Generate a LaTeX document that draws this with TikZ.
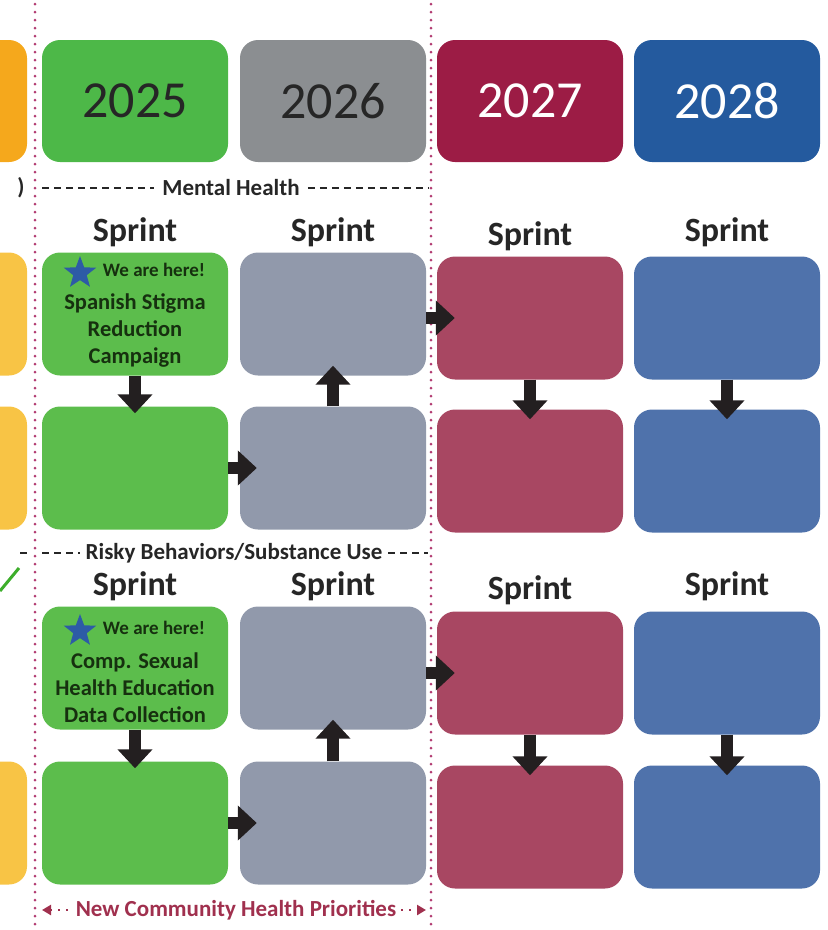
\documentclass[tikz,border=0pt]{standalone}
\usepackage{fontspec}
\setmainfont{Carlito}
\usetikzlibrary{arrows.meta,shapes.geometric}
\definecolor{yrorange}{HTML}{F5A81C}
\definecolor{rworange}{HTML}{F8C445}
\definecolor{yrgreen}{HTML}{4DB848}
\definecolor{rwgreen}{HTML}{5CBD4C}
\definecolor{yrgray}{HTML}{8B8E91}
\definecolor{rwgray}{HTML}{9199AB}
\definecolor{yrred}{HTML}{9C1C45}
\definecolor{rwred}{HTML}{A84762}
\definecolor{yrblue}{HTML}{245A9E}
\definecolor{rwblue}{HTML}{4F72AB}
\definecolor{arrowblk}{HTML}{231F20}
\definecolor{textdark}{HTML}{262626}
\definecolor{textgreen}{HTML}{16300F}
\definecolor{stardot}{HTML}{B23C72}
\definecolor{priored}{HTML}{A0304E}
\definecolor{starblue}{HTML}{2D5BA6}
\definecolor{linkgreen}{HTML}{3DAE2B}
\newcommand{\yrfont}{\fontsize{52}{58}\selectfont}
\newcommand{\sprintfont}{\bfseries\fontsize{34}{38}\selectfont}
\newcommand{\topicfont}{\bfseries\fontsize{23}{26}\selectfont}
\newcommand{\taskfont}{\bfseries\fontsize{22.5}{27}\selectfont}
\newcommand{\herefont}{\bfseries\fontsize{19}{21}\selectfont}
\tikzset{
  box/.style={rounded corners=18pt, minimum width=186pt, minimum height=123pt, inner sep=0pt},
  yearbox/.style={box, minimum height=122pt, font=\yrfont},
  blk/.style={draw=arrowblk, line width=12.5pt, -{Triangle[width=34pt,length=19pt]}},
  sprint/.style={font=\sprintfont, text=textdark, inner sep=0pt},
  topic/.style={font=\topicfont, text=textdark, inner ysep=0pt, inner xsep=8pt},
  topicline/.style={draw=textdark, line width=2.4pt, dash pattern=on 7pt off 5pt},
  dotline/.style={draw=stardot, line width=3pt, line cap=round, dash pattern=on 0pt off 8pt},
  task/.style={font=\taskfont, text=textgreen, align=center, inner sep=0pt},
  here/.style={font=\herefont, text=textgreen, inner sep=0pt},
  bluestar/.style={star, star points=5, star point ratio=2.4, fill=starblue, minimum size=34pt, inner sep=0pt}
}
\begin{document}
\begin{tikzpicture}[x=1pt,y=-1pt]
\useasboundingbox (0,0) rectangle (828,930);
\clip (0,0) rectangle (828,930);

%cut-off column on the left
\node[yearbox, fill=yrorange] (y24) at (-66,101) {};
\node[box, fill=rworange] (l1a) at (-66,314) {};
\node[box, fill=rworange] (l1b) at (-66,468) {};
\node[box, fill=rworange] (l2b) at (-66,823) {};
\node[font=\topicfont, text=textdark] at (21,188) {)};
\draw[topicline] (20,553) -- (27,553);
\draw[linkgreen, line width=3pt] (0,591) -- (19,568);

%year boxes
\node[yearbox, fill=yrgreen, text=textdark] (y25) at (135,101) {2025};
\node[yearbox, fill=yrgray, text=textdark] (y26) at (333,101) {2026};
\node[yearbox, fill=yrred, text=white] (y27) at (530,101) {2027};
\node[yearbox, fill=yrblue, text=white] (y28) at (727,101) {2028};

%dotted column marks
\draw[dotline] (35,4) -- (35,930);
\draw[dotline] (431,4) -- (431,930);

%mental health
\coordinate (mhl) at (42,188);
\coordinate (mhr) at (428,188);
\node[topic, fill=white] (mh) at (231,188) {Mental Health};
\draw[topicline] (mhl) -- (mh);
\draw[topicline] (mh) -- (mhr);

\node[sprint] (s1a) at (135,232) {Sprint};
\node[sprint] (s2a) at (333,232) {Sprint};
\node[sprint] (s3a) at (530,236) {Sprint};
\node[sprint] (s4a) at (727,232) {Sprint};

\node[box, fill=rwgreen] (m1a) at (135,314) {};
\node[box, fill=rwgreen] (m1b) at (135,468) {};
\node[box, fill=rwgray] (m2a) at (333,314) {};
\node[box, fill=rwgray] (m2b) at (333,468) {};
\node[box, fill=rwred] (m3a) at (530,318) {};
\node[box, fill=rwred] (m3b) at (530,471) {};
\node[box, fill=rwblue] (m4a) at (727,318) {};
\node[box, fill=rwblue] (m4b) at (727,471) {};

\node[bluestar] (st1) at (80,273) {};
\node[here] (h1) at (154,270) {We are here!};
\node[task] (t1) at (135,330) {Spanish Stigma\\Reduction\\Campaign};

\draw[blk, shorten >=-7pt] (m1a) -- (m1b);
\draw[blk, shorten >=-17pt] (m1b) -- (m2b);
\draw[blk, shorten >=-10pt] (m2b) -- (m2a);
\draw[blk, shorten >=-18pt] (m3a.west -| m2a.east) -- (m3a.west);
\draw[blk, shorten >=-10pt] (m3a) -- (m3b);
\draw[blk, shorten >=-10pt] (m4a) -- (m4b);

%risky behaviors
\coordinate (rbl) at (42,553);
\coordinate (rbr) at (428,553);
\node[topic, fill=white, inner xsep=6pt] (rb) at (234,553) {Risky Behaviors/Substance Use};
\draw[topicline] (rbl) -- (rb);
\draw[topicline] (rb) -- (rbr);

\node[sprint] (s1b) at (135,586) {Sprint};
\node[sprint] (s2b) at (333,586) {Sprint};
\node[sprint] (s3b) at (530,590) {Sprint};
\node[sprint] (s4b) at (727,586) {Sprint};

\node[box, fill=rwgreen] (r1a) at (135,668) {};
\node[box, fill=rwgreen] (r1b) at (135,823) {};
\node[box, fill=rwgray] (r2a) at (333,668) {};
\node[box, fill=rwgray] (r2b) at (333,823) {};
\node[box, fill=rwred] (r3a) at (530,673) {};
\node[box, fill=rwred] (r3b) at (530,827) {};
\node[box, fill=rwblue] (r4a) at (727,673) {};
\node[box, fill=rwblue] (r4b) at (727,827) {};

\node[bluestar] (st2) at (80,631) {};
\node[here] (h2) at (154,628) {We are here!};
\node[task] (t2) at (135,688) {Comp. Sexual\\Health Education\\Data Collection};

\draw[blk, shorten >=-7pt] (r1a) -- (r1b);
\draw[blk, shorten >=-17pt] (r1b) -- (r2b);
\draw[blk, shorten >=-10pt] (r2b) -- (r2a);
\draw[blk, shorten >=-18pt] (r3a.west -| r2a.east) -- (r3a.west);
\draw[blk, shorten >=-10pt] (r3a) -- (r3b);
\draw[blk, shorten >=-10pt] (r4a) -- (r4b);

%new priorities
\coordinate (npl) at (42,910);
\coordinate (npr) at (426,910);
\node[font=\topicfont, text=priored, inner xsep=5pt, inner ysep=0pt] (np) at (236,910) {New Community Health Priorities};
\draw[priored, line width=2.4pt, dash pattern=on 2pt off 6pt, {Triangle[width=10pt,length=9pt]}-] (npl) -- (np);
\draw[priored, line width=2.4pt, dash pattern=on 2pt off 6pt, -{Triangle[width=10pt,length=9pt]}] (np) -- (npr);
\end{tikzpicture}
\end{document}
